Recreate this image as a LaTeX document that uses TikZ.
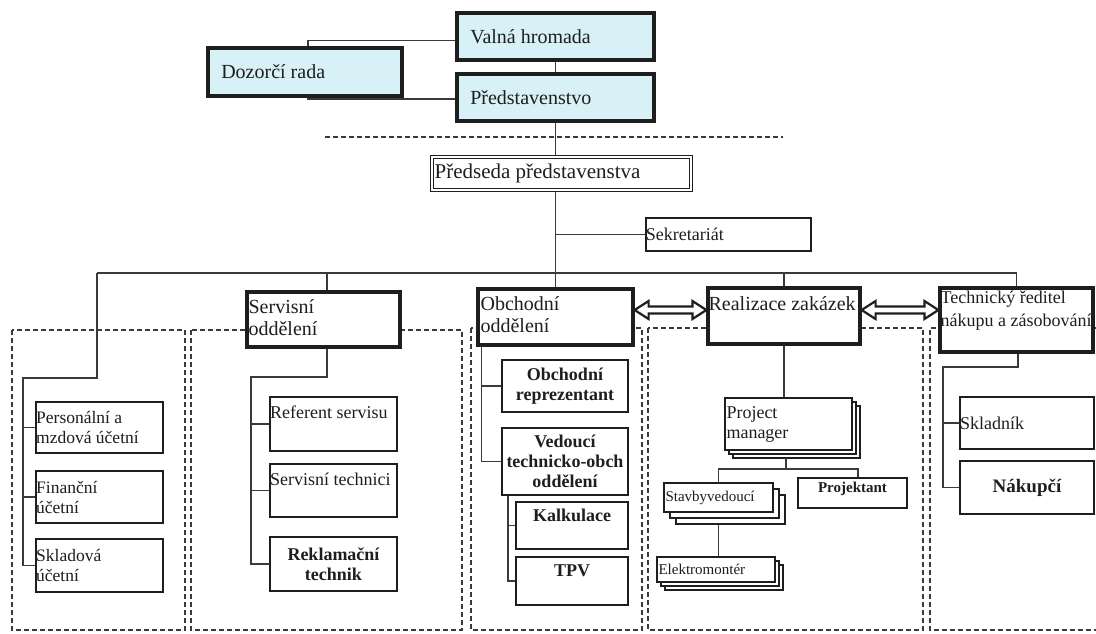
\documentclass[tikz,border=0pt]{standalone}
\usepackage{fontspec}
\setmainfont{Liberation Serif}
\usetikzlibrary{fit,calc}
\definecolor{topfill}{HTML}{D8F1F7}
\definecolor{ink}{HTML}{1E1E1E}
\definecolor{wirec}{HTML}{3A3A3A}
\newcommand{\mybox}[6]{\node[#6, fit={(#2,#3) (#4,#5)}] (#1) {};}
\newcommand{\stackback}[5]{%
  \draw[stackst] ($(#1,#2)+(#5,#5)$) rectangle ($(#3,#4)+(#5,#5)$);}
\begin{document}
\begin{tikzpicture}[x=1pt,y=-1pt,
  topbox/.style={draw=ink, line width=3.8pt, fill=topfill, inner sep=0pt},
  headbox/.style={draw=ink, line width=3.2pt, fill=white, inner sep=0pt},
  sekbox/.style={draw=ink, line width=2.6pt, fill=white, inner sep=0pt},
  subbox/.style={draw=ink, line width=2pt, fill=white, inner sep=0pt},
  thinbox/.style={draw=ink, line width=1.4pt, fill=white, inner sep=0pt},
  stackst/.style={draw=ink, line width=1.4pt, fill=white},
  dblbox/.style={draw=ink, double=white, double distance=2.4pt, line width=1.2pt, fill=white, inner sep=0pt},
  wire/.style={draw=wirec, line width=1.3pt},
  zone/.style={draw=wirec, line width=1.3pt, dash pattern=on 5pt off 3pt},
  arrowst/.style={draw=ink, line width=2.2pt, fill=white, line join=miter},
  tbig/.style={font=\fontsize{20}{22}\selectfont, inner sep=0pt, align=left, text=ink},
  tpsd/.style={font=\fontsize{21}{23}\selectfont, inner sep=0pt, align=left, text=ink},
  tmid/.style={font=\fontsize{18}{20}\selectfont, inner sep=0pt, align=left, text=ink},
  tleft/.style={font=\fontsize{17.5}{20}\selectfont, inner sep=0pt, align=left, text=ink},
  tbold/.style={font=\fontsize{18}{20}\selectfont\bfseries, inner sep=0pt, align=center, text=ink},
  tsmall/.style={font=\fontsize{15}{17}\selectfont, inner sep=0pt, align=left, text=ink},
  tsmallb/.style={font=\fontsize{15}{17}\selectfont\bfseries, inner sep=0pt, align=center, text=ink},
  ]
\useasboundingbox (0,0) rectangle (1096,633);
\fill[white] (0,0) rectangle (1096,633);

% dashed zones
\draw[zone] (12,330) rectangle (185,630);
\draw[zone] (191,330) rectangle (462,630);
\draw[zone] (471,328) rectangle (642,630);
\draw[zone] (648,328) rectangle (923,630);
\draw[zone] (1096,328) -- (930,328) -- (930,630) -- (1096,630);

% top level
\mybox{valna}{457}{13}{654}{60}{topbox}
\mybox{pred}{457}{74}{654}{121}{topbox}
\mybox{dozor}{208}{48}{402}{96}{topbox}
\node[tbig, anchor=west] at ([xshift=15pt]valna.west) {Valná hromada};
\node[tbig, anchor=west] at ([xshift=15pt]pred.west) {Představenstvo};
\node[tbig, anchor=west] at ([xshift=15pt]dozor.west) {Dozorčí rada};

\draw[wire] ([yshift=-4pt]valna.west) -| ([xshift=3pt]dozor.north);
\draw[wire] ([xshift=3pt]dozor.south) |- ([yshift=-1.5pt]pred.west);
\draw[wire] (valna.south) -- (pred.north);

\coordinate (dl) at (325,137);
\coordinate (dr) at (783,137);
\draw[zone] (dl) -- (dr);

\mybox{psd}{432}{157}{691}{190}{dblbox}
\node[tpsd, anchor=west] at ([xshift=3pt]psd.west) {Předseda představenstva};
\draw[wire] (pred.south) -- (pred.south |- psd.north);

\mybox{sek}{646}{218}{811}{251}{sekbox}
\node[tmid, anchor=west] at ([xshift=1pt]sek.west) {Sekretariát};

% second level heads
\mybox{serv}{247}{292}{400}{347}{headbox}
\mybox{obch}{478}{289}{633}{345}{headbox}
\mybox{real}{708}{288}{860}{344}{headbox}
\mybox{tech}{940}{288}{1093}{352}{headbox}
\node[tbig, anchor=north west] at ([shift={(3pt,-9pt)}]serv.north west) {Servisní\\oddělení};
\node[tbig, anchor=north west] at ([shift={(4pt,-9pt)}]obch.north west) {Obchodní\\oddělení};
\node[tbig, anchor=north west] at ([shift={(2pt,-10pt)}]real.north west) {Realizace zakázek};
\node[tmid, anchor=north west, font=\fontsize{18}{23}\selectfont] at ([shift={(2pt,-4pt)}]tech.north west) {Technický ředitel\\nákupu a zásobování};

% bus
\coordinate (busL) at (97,273);
\draw[wire] (busL) -- (tech.north |- busL);
\draw[wire] (obch.north |- psd.south) -- (obch.north);
\draw[wire] (sek.west) -- (sek.west -| obch.north);
\draw[wire] ([xshift=3.5pt]serv.north) -- ([xshift=3.5pt]serv.north |- busL);
\draw[wire] (real.north) -- (real.north |- busL);
\draw[wire] (tech.north) -- (tech.north |- busL);

% left group
\mybox{pers}{36}{402}{163}{453}{subbox}
\mybox{fin}{36}{471}{163}{523}{subbox}
\mybox{sklu}{36}{539}{163}{592}{subbox}
\node[tleft, anchor=west] at ([xshift=1pt]pers.west) {Personální a\\mzdová účetní};
\node[tleft, anchor=west] at ([xshift=1pt]fin.west) {Finanční\\účetní};
\node[tleft, anchor=west] at ([xshift=1pt]sklu.west) {Skladová\\účetní};
\coordinate (lgTop) at (97,378);
\coordinate (lgL) at (23,378);
\draw[wire] (busL) -- (lgTop) -- (lgL) -- (lgL |- sklu.west) -- (sklu.west);
\draw[wire] (lgL |- pers.west) -- (pers.west);
\draw[wire] (lgL |- fin.west) -- (fin.west);

% servis group
\mybox{ref}{270}{397}{397}{451}{subbox}
\mybox{stech}{270}{464}{397}{517}{subbox}
\mybox{rekl}{270}{537}{397}{591}{subbox}
\node[tmid, anchor=west] at ([shift={(1pt,-16pt)}]ref.north west) {Referent servisu};
\node[tmid, anchor=west] at ([shift={(1pt,-16pt)}]stech.north west) {Servisní technici};
\node[tbold] at (rekl.center) {Reklamační\\technik};
\coordinate (sg) at (251,377);
\draw[wire] ([xshift=3.5pt]serv.south) |- (sg) -- (sg |- rekl.west) -- (rekl.west);
\draw[wire] (sg |- ref.west) -- (ref.west);
\draw[wire] (sg |- stech.west) -- (stech.west);

% obchod group
\mybox{rep}{502}{360}{628}{412}{subbox}
\mybox{ved}{502}{428}{628}{495}{subbox}
\mybox{kalk}{516}{502}{628}{549}{subbox}
\mybox{tpv}{516}{557}{628}{605}{subbox}
\node[tbold] at (rep.center) {Obchodní\\reprezentant};
\node[tbold] at (ved.center) {Vedoucí\\technicko-obch\\oddělení};
\node[tbold] at ([yshift=-14pt]kalk.north) {Kalkulace};
\node[tbold] at ([yshift=-15pt]tpv.north) {TPV};
\coordinate (og) at ([xshift=5pt]obch.south west);
\draw[wire] (og) -- (og |- ved.west) -- (ved.west);
\draw[wire] (og |- rep.west) -- (rep.west);
\coordinate (vg) at ([xshift=7pt]ved.south west);
\draw[wire] (vg) -- (vg |- tpv.west) -- (tpv.west);
\draw[wire] (vg |- kalk.west) -- (kalk.west);

% realizace group
\stackback{725}{398}{852}{450}{8}
\stackback{725}{398}{852}{450}{4}
\mybox{pm}{725}{398}{852}{450}{thinbox}
\node[tmid, anchor=west] at ([xshift=2pt]pm.west) {Project\\manager};
\stackback{664}{483}{773}{512}{12}
\stackback{664}{483}{773}{512}{6}
\mybox{stav}{664}{483}{773}{512}{thinbox}
\node[tsmall, anchor=west] at ([xshift=2pt]stav.west) {Stavbyvedoucí};
\stackback{657}{557}{775}{582}{8}
\stackback{657}{557}{775}{582}{4}
\mybox{elek}{657}{557}{775}{582}{thinbox}
\node[tsmall, anchor=west] at ([xshift=2pt]elek.west) {Elektromontér};
\mybox{proj}{798}{478}{907}{508}{thinbox}
\node[tsmallb] at ([yshift=-12pt]proj.north) {Projektant};

\draw[wire] (real.south) -- (real.south |- pm.north);
\coordinate (pmb) at (786,458);
\coordinate (hR) at (858,469);
\draw[wire] (pmb) -- (pmb |- hR);
\draw[wire] (stav.north) |- (hR) -- (hR |- proj.north);
\draw[wire] ([yshift=-12pt]stav.south) -- (stav.south |- elek.north);

% technicky group
\mybox{skl}{960}{397}{1094}{449}{subbox}
\mybox{nak}{960}{461}{1094}{514}{subbox}
\node[tmid, anchor=west] at ([xshift=1pt]skl.west) {Skladník};
\node[tbold, font=\fontsize{19}{21}\selectfont\bfseries] at (nak.center) {Nákupčí};
\coordinate (tg) at (943,367);
\draw[wire] ([xshift=1.5pt]tech.south) |- (tg) -- (tg |- nak.west) -- (nak.west);
\draw[wire] (tg |- skl.west) -- (skl.west);

% double arrows
\coordinate (a1) at ([yshift=7pt]obch.east);
\coordinate (a2) at ([yshift=6pt]real.west);
\coordinate (a3) at ([yshift=6pt]real.east);
\coordinate (a4) at ([yshift=10pt]tech.west);
\draw[arrowst] (a1) -- ++(14,-9) -- ++(0,5.5) -- ($(a2)+(-14,-3.5)$) -- ++(0,-5.5) -- (a2) -- ++(-14,9) -- ++(0,-5.5) -- ($(a1)+(14,3.5)$) -- ++(0,5.5) -- cycle;
\draw[arrowst] (a3) -- ++(14,-9) -- ++(0,5.5) -- ($(a4)+(-14,-3.5)$) -- ++(0,-5.5) -- (a4) -- ++(-14,9) -- ++(0,-5.5) -- ($(a3)+(14,3.5)$) -- ++(0,5.5) -- cycle;
\end{tikzpicture}
\end{document}
